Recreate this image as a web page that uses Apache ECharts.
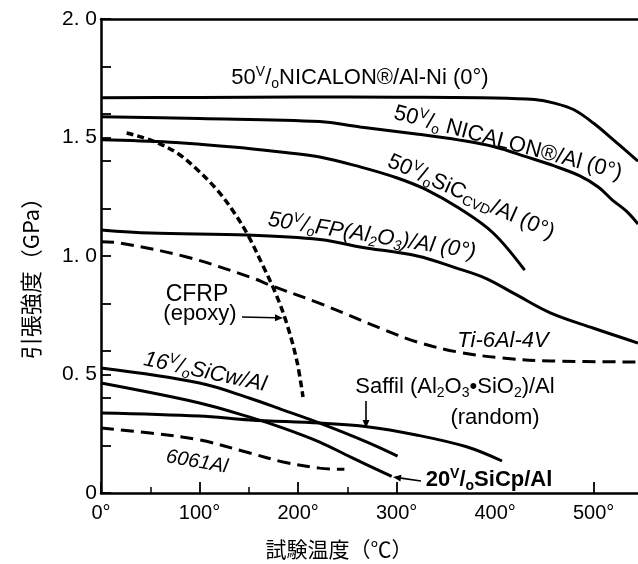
<!DOCTYPE html>
<html><head><meta charset="utf-8">
<script src="https://cdn.jsdelivr.net/npm/echarts@6/dist/echarts.min.js"></script>
<style>html,body{margin:0;padding:0;background:#fff}#c{width:638px;height:564px}</style>
</head><body><div id="c"></div>
<script>
// ---- data ----
const xTickLabels = [0, 100, 200, 300, 400, 500];
const xMajorTicks = [0, 100, 200, 300, 500];
const xMinorTicks = [50, 150, 250];
const yTickLabels = [0, 0.5, 1.0, 1.5, 2.0];
const yTicks = [0, 0.2, 0.4, 0.5, 0.6, 0.8, 1.0, 1.2, 1.4, 1.5, 1.6, 1.8, 2.0];

const nicalonAlNi = [[0,1.668],[100,1.669],[200,1.671],[300,1.67],[400,1.667],[440,1.66],[460,1.645],[480,1.617],[500,1.56],[520,1.49],[545,1.40]];
const nicalonAl = [[0,1.588],[100,1.58],[222,1.567],[263,1.544],[320,1.515],[364,1.489],[400,1.46],[432,1.418],[460,1.38],[486,1.338],[505,1.29],[519,1.236],[533,1.19],[545,1.135]];
const sicCvdAl = [[0,1.49],[70,1.48],[134,1.46],[180,1.44],[222,1.418],[263,1.376],[300,1.33],[331,1.278],[364,1.20],[398,1.097],[430,0.94]];
const fpAl = [[0,1.11],[50,1.097],[148,1.089],[222,1.07],[263,1.038],[321,1.0],[360,0.95],[391,0.905],[420,0.84],[456,0.76],[500,0.695],[545,0.633]];
const ti6Al4V = [[0,1.06],[19,1.055],[87,0.996],[154,0.907],[171,0.878],[222,0.80],[288,0.688],[321,0.637],[362,0.595],[406,0.57],[456,0.557],[545,0.553]];
const cfrp = [[26,1.519],[53,1.485],[77,1.435],[97,1.367],[118,1.278],[134,1.19],[149,1.089],[164,0.962],[178,0.835],[189,0.709],[199,0.553],[205,0.405]];
const sicwAl = [[0,0.527],[100,0.464],[151,0.40],[185,0.35],[222,0.295],[270,0.215],[301,0.156]];
const sicpAl = [[0,0.464],[100,0.38],[151,0.32],[185,0.274],[222,0.215],[253,0.152],[295,0.07]];
const saffilAl = [[0,0.338],[100,0.325],[151,0.308],[222,0.295],[270,0.28],[320,0.245],[371,0.195],[407,0.135]];
const al6061 = [[0,0.274],[50,0.253],[100,0.224],[151,0.169],[185,0.131],[222,0.105],[247,0.10]];

// ---- styles ----
const F = '"Liberation Sans",Arial,sans-serif';
const CJK = '"Noto Sans CJK JP","Noto Sans CJK SC",sans-serif';

function solid(name, data) {
  return {name, type:'line', data, symbol:'none', smooth:0.35, lineStyle:{color:'#000', width:3}, xAxisIndex:0, yAxisIndex:0, silent:true};
}
function dashed(name, data, dash, w) {
  return {name, type:'line', data, symbol:'none', smooth:0.35, lineStyle:{color:'#000', width:w||3, type:dash}, xAxisIndex:0, yAxisIndex:0, silent:true};
}

function richStyle(size, italic, weight) {
  const fs = italic ? 'italic' : 'normal';
  const fw = weight || 'normal';
  const s = Math.round(size*0.62);
  return {
    n: {fontSize:size, fontFamily:F, fontStyle:fs, fontWeight:fw, lineHeight:size+4, verticalAlign:'middle', fill:'#000'},
    sup: {fontSize:s, fontFamily:F, fontStyle:fs, fontWeight:fw, lineHeight:size+4, verticalAlign:'top', fill:'#000'},
    sub: {fontSize:s, fontFamily:F, fontStyle:fs, fontWeight:fw, lineHeight:size+4, verticalAlign:'bottom', fill:'#000'}
  };
}
function label(text, x, y, deg, size, italic, weight) {
  return {type:'text', x, y, rotation: -deg*Math.PI/180, silent:true, z:100,
    style:{text, rich:richStyle(size, italic, weight), align:'center', verticalAlign:'middle', fill:'#000', fontSize:size, fontFamily:F}};
}
function plain(text, x, y, size, family, rot) {
  return {type:'text', x, y, rotation: rot||0, silent:true, z:100,
    style:{text, align:'center', verticalAlign:'middle', fill:'#000', fontSize:size, fontFamily:family||F}};
}
function arrow(x1,y1,x2,y2) {
  const a = Math.atan2(y2-y1, x2-x1), L=8, W=3.5;
  const bx = x2 - L*Math.cos(a), by = y2 - L*Math.sin(a);
  return [
    {type:'line', shape:{x1,y1,x2:bx,y2:by}, style:{stroke:'#000', lineWidth:1.6}, silent:true, z:100},
    {type:'polygon', shape:{points:[[x2,y2],[bx - W*Math.sin(a), by + W*Math.cos(a)],[bx + W*Math.sin(a), by - W*Math.cos(a)]]}, style:{fill:'#000'}, silent:true, z:100}
  ];
}

const graphics = [
  label('{n|50}{sup|V}{n|/}{sub|o}{n|NICALON®/Al-Ni (0°)}', 360, 78, 0, 22, false),
  label('{n|50}{sup|V}{n|/}{sub|o}{n| NICALON®/Al (0°)}', 508, 143, 15, 22, false),
  label('{n|50}{sup|V}{n|/}{sub|o}{n|SiC}{sub|CVD}{n|/Al (0°)}', 471, 197, 24, 22, false),
  label('{n|50}{sup|V}{n|/}{sub|o}{n|FP(Al}{sub|2}{n|O}{sub|3}{n|)/Al (0°)}', 372, 236, 9, 22, true),
  plain('CFRP', 197, 295, 23),
  plain('(epoxy)', 200, 314, 22),
  label('{n|Ti-6Al-4V}', 503, 341, 0, 22, true),
  label('{n|16}{sup|V}{n|/}{sub|o}{n|SiCw/Al}', 205, 372, 12, 22, true),
  label('{n|Saffil (Al}{sub|2}{n|O}{sub|3}{n|•SiO}{sub|2}{n|)/Al}', 455, 387, 0, 22, false),
  plain('(random)', 495, 418, 22),
  label('{n|6061Al}', 197, 462, 10, 20, true),
  label('{n|20}{sup|V}{n|/}{sub|o}{n|SiCp/Al}', 489, 480, 0, 22, false, 'bold'),
  plain('引張強度（GPa）', 31, 273, 22, CJK, Math.PI/2),
  plain('試験温度（℃）', 339, 549, 21, CJK),
  ...arrow(242,317,283,318),
  ...arrow(366,401,366,428),
  ...arrow(421,481,393,477)
];

const chart = echarts.init(document.getElementById('c'), null, {renderer:'canvas'});
chart.setOption({
  animation:false,
  backgroundColor:'#fff',
  grid:{left:101, right:0, top:19, bottom:71, containLabel:false},
  xAxis:[
    {type:'value', min:0, max:545, position:'bottom',
     axisLine:{show:true, onZero:false, lineStyle:{color:'#000', width:2.5}},
     axisTick:{show:true, inside:true, length:11, customValues:xMajorTicks, lineStyle:{color:'#000', width:1.8}},
     axisLabel:{show:true, customValues:xTickLabels, formatter:v=>v+'°', color:'#000', fontSize:20, fontFamily:F, margin:10},
     splitLine:{show:false}},
    {type:'value', min:0, max:545, position:'bottom',
     axisLine:{show:false, onZero:false},
     axisTick:{show:true, inside:true, length:6, customValues:xMinorTicks, lineStyle:{color:'#000', width:1.5}},
     axisLabel:{show:false}, splitLine:{show:false}},
    {type:'value', min:0, max:545, position:'top',
     axisLine:{show:true, onZero:false, lineStyle:{color:'#000', width:2.5}},
     axisTick:{show:false}, axisLabel:{show:false}, splitLine:{show:false}}
  ],
  yAxis:[{type:'value', min:0, max:2, interval:0.1,
    axisLine:{show:true, onZero:false, lineStyle:{color:'#000', width:2.5}},
    axisTick:{show:true, inside:true, length:10, customValues:yTicks, lineStyle:{color:'#000', width:1.8}},
    axisLabel:{show:true, customValues:yTickLabels, formatter:v=> v===0 ? '0' : v.toFixed(1).replace('.', '. '), color:'#000', fontSize:21, fontFamily:F, margin:4},
    splitLine:{show:false}}],
  series:[
    solid('NICALON/Al-Ni', nicalonAlNi),
    solid('NICALON/Al', nicalonAl),
    solid('SiC CVD/Al', sicCvdAl),
    solid('FP/Al', fpAl),
    dashed('Ti-6Al-4V', ti6Al4V, [13,7], 3),
    dashed('CFRP', cfrp, [7,4], 3.5),
    solid('SiCw/Al', sicwAl),
    solid('SiCp/Al', sicpAl),
    solid('Saffil/Al', saffilAl),
    dashed('6061Al', al6061, [13,7], 3)
  ],
  graphic: graphics
});
</script></body></html>
